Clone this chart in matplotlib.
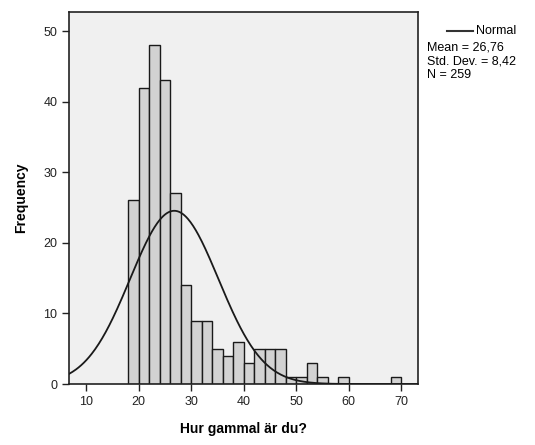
import numpy as np
import matplotlib
matplotlib.use("Agg")
import matplotlib.pyplot as plt

plt.rcParams["font.family"] = ["Liberation Sans", "DejaVu Sans"]

# histogram of ages, bins of width 2 starting at 18
bin_edges = [18, 20, 22, 24, 26, 28, 30, 32, 34, 36, 38, 40, 42, 44, 46, 48,
             50, 52, 54, 56, 58, 60, 62, 64, 66, 68, 70]
counts = [26, 42, 48, 43, 27, 14, 9, 9, 5, 4, 6, 3, 5, 5, 5, 1,
          1, 3, 1, 0, 1, 0, 0, 0, 0, 1]
mean_age = 26.76
sd_age = 8.42
n_obs = 259
bin_w = 2

fig = plt.figure(figsize=(5.35, 4.45), dpi=100)
ax = fig.add_axes([0.129, 0.137, 0.652, 0.836])
ax.set_facecolor("#f0f0f0")

lefts = np.array(bin_edges[:-1])
ax.bar(lefts, counts, width=bin_w, align="edge", color="#d2d2d2",
       edgecolor="#1a1a1a", linewidth=1.0, zorder=2)

xs = np.linspace(6.7, 73.2, 400)
ys = n_obs * bin_w * np.exp(-0.5 * ((xs - mean_age) / sd_age) ** 2) / (sd_age * np.sqrt(2 * np.pi))
ax.plot(xs, ys, color="#1a1a1a", lw=1.3, zorder=3)

ax.set_xlim(6.7, 73.2)
ax.set_ylim(0, 52.7)
ax.set_xticks([10, 20, 30, 40, 50, 60, 70])
ax.set_yticks([0, 10, 20, 30, 40, 50])
ax.tick_params(direction="out", length=5, width=1, labelsize=9, colors="#222222")
for s in ax.spines.values():
    s.set_color("#222222")
    s.set_linewidth(1.2)

ax.set_xlabel("Hur gammal är du?", fontsize=10, fontweight="bold", labelpad=10)
ax.set_ylabel("Frequency", fontsize=10, fontweight="bold", labelpad=11)

# legend / stats box on the right
fig.add_artist(plt.Line2D([447 / 535, 473 / 535], [1 - 31 / 445, 1 - 31 / 445],
                          color="#333333", lw=1.5))
fig.text(476 / 535, 1 - 31 / 445, "Normal", fontsize=9, va="center")
fig.text(427 / 535, 1 - 47 / 445,
         "Mean = " + f"{mean_age:.2f}".replace(".", ","), fontsize=9, va="center")
fig.text(427 / 535, 1 - 61 / 445,
         "Std. Dev. = " + f"{sd_age:.2f}".replace(".", ","), fontsize=9, va="center")
fig.text(427 / 535, 1 - 75 / 445, f"N = {n_obs}", fontsize=9, va="center")

fig.savefig("out.png", dpi=100)
